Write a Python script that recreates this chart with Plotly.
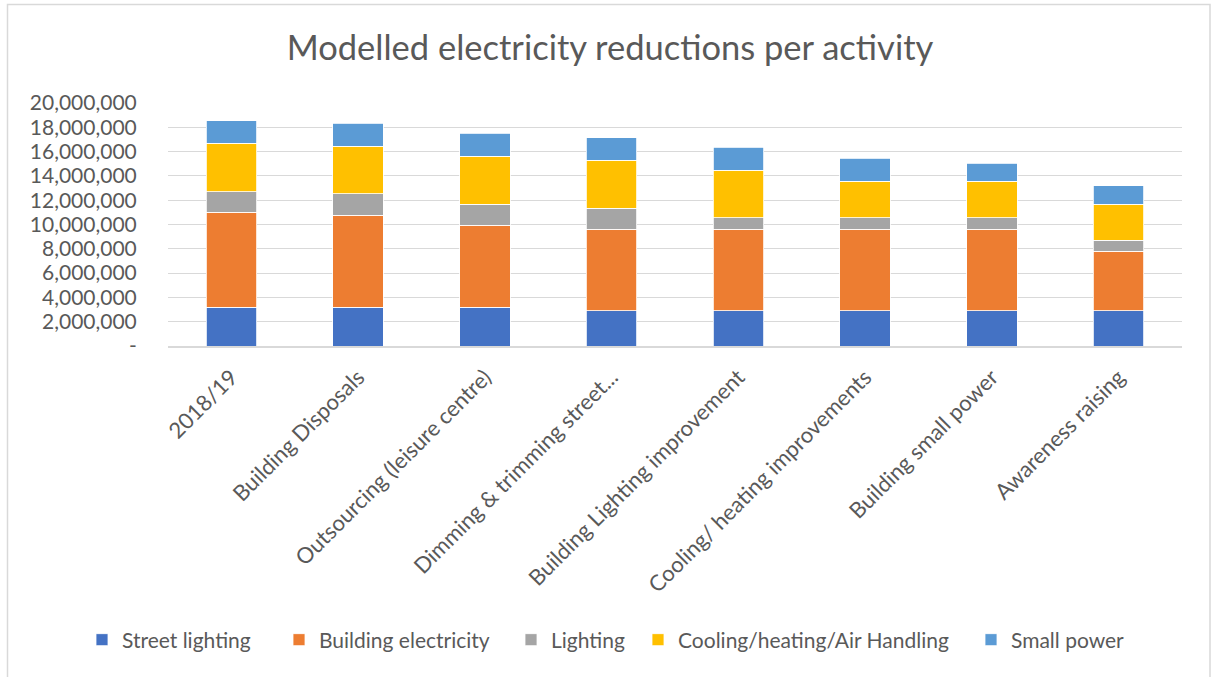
import plotly.graph_objects as go

categories = ["2018/19", "Building Disposals", "Outsourcing (leisure centre)",
              "Dimming & trimming street...", "Building Lighting improvement",
              "Cooling/ heating improvements", "Building small power", "Awareness raising"]

street_lighting = [3200000, 3200000, 3200000, 2900000, 2900000, 2900000, 2900000, 2900000]
building_electricity = [7800000, 7570000, 6720000, 6720000, 6720000, 6720000, 6720000, 4890000]
lighting = [1700000, 1770000, 1750000, 1720000, 950000, 950000, 950000, 900000]
cooling = [3970000, 3910000, 3960000, 3960000, 3910000, 3010000, 3010000, 2980000]
small_power = [1880000, 1880000, 1880000, 1860000, 1890000, 1860000, 1470000, 1530000]

series_names = ["Street lighting", "Building electricity", "Lighting",
                "Cooling/heating/Air Handling", "Small power"]
series_values = [street_lighting, building_electricity, lighting, cooling, small_power]
series_colors = ["#4472C4", "#ED7D31", "#A5A5A5", "#FFC000", "#5B9BD5"]
legend_marker_px = [102, 299, 531, 658, 991]

tick_vals = [0, 2000000, 4000000, 6000000, 8000000, 10000000, 12000000, 14000000,
             16000000, 18000000, 20000000]
tick_text = ["-", "2,000,000", "4,000,000", "6,000,000", "8,000,000", "10,000,000",
             "12,000,000", "14,000,000", "16,000,000", "18,000,000", "20,000,000"]

FONT = "Lato, Carlito, 'Open Sans', sans-serif"

W, H = 1214, 677
L, R, T, B = 168, 32, 103, 331
pw, ph = W - L - R, H - T - B

def px2x(px):
    return (px - L) / pw

def py2y(py):
    return (H - B - py) / ph

fig = go.Figure()
legend_layouts = {}
for i, (name, vals, color) in enumerate(zip(series_names, series_values, series_colors)):
    lg = "legend" if i == 0 else f"legend{i + 1}"
    fig.add_trace(go.Bar(x=categories, y=vals, name=name, legend=lg,
                         marker=dict(color=color, line=dict(color="white", width=0.8))))
    legend_layouts[lg] = dict(
        orientation="h", x=px2x(legend_marker_px[i] - 20), xanchor="left",
        y=py2y(640), yanchor="middle", bgcolor="rgba(0,0,0,0)",
        font=dict(size=21, color="#595959", family=FONT), itemwidth=30)

fig.update_layout(
    width=W, height=H,
    barmode="stack", bargap=0.6,
    margin=dict(l=L, r=R, t=T, b=B),
    paper_bgcolor="white", plot_bgcolor="white",
    font=dict(family=FONT, color="#595959", size=16),
    title=dict(text="Modelled electricity reductions per activity",
               x=610 / W, xanchor="center", y=1 - 48 / H, yanchor="middle",
               font=dict(size=34.5, color="#595959", family=FONT)),
    xaxis=dict(tickangle=-45, showgrid=False, showline=True, linecolor="#D9D9D9",
               linewidth=1.5, ticks="outside", ticklen=8, tickcolor="rgba(0,0,0,0)",
               tickfont=dict(size=22, color="#595959")),
    yaxis=dict(range=[0, 20000000], tickvals=tick_vals, ticktext=tick_text,
               showgrid=True, gridcolor="#D9D9D9", gridwidth=1.2, zeroline=False,
               showline=False, ticks="outside", ticklen=26, tickcolor="rgba(0,0,0,0)",
               tickfont=dict(size=21, color="#595959")),
    showlegend=True,
    **legend_layouts,
)

fig.add_shape(type="rect", xref="paper", yref="paper",
              x0=px2x(7.5), x1=px2x(1210), y0=py2y(690), y1=py2y(4.5),
              line=dict(color="#D9D9D9", width=1.5), fillcolor="rgba(0,0,0,0)", layer="below")

fig.write_html("out.html", config={"displayModeBar": False},
               post_script="document.body.style.margin='0';document.body.style.overflow='hidden';")
